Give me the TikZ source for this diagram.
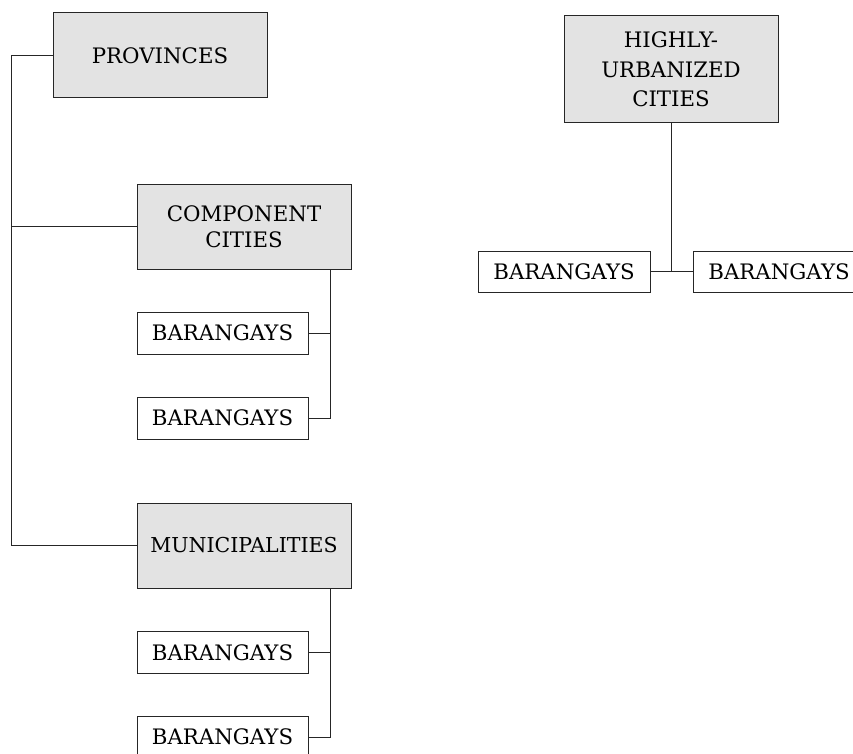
\documentclass[tikz,border=0pt]{standalone}
\usepackage{fontspec}
\setmainfont{DejaVu Serif}
\begin{document}
\begin{tikzpicture}[x=1pt,y=-1pt,
  lbl/.style={font=\fontsize{21.3}{26}\selectfont, align=center, inner sep=0pt},
  shaded/.style={lbl, draw=black!85, line width=1pt, fill=black!11},
  plain/.style={lbl, draw=black!85, line width=1pt, fill=white},
  conn/.style={draw=black!85, line width=0.9pt}]
\useasboundingbox (0,0) rectangle (853,754);
\clip (0,0) rectangle (853,754);
% left tree
\node[shaded, minimum width=214pt, minimum height=85pt] (prov) at (160,55.5) {PROVINCES};
\node[shaded, minimum width=214pt, minimum height=85pt] (comp) at (244,226.5) {COMPONENT\\CITIES};
\node[plain, minimum width=171pt, minimum height=42pt] (cb1) at (222.5,333) {BARANGAYS};
\node[plain, minimum width=171pt, minimum height=42pt] (cb2) at (222.5,418) {BARANGAYS};
\node[shaded, minimum width=214pt, minimum height=85pt, font=\fontsize{20.5}{26}\selectfont] (mun) at (244,545.5) {MUNICIPALITIES};
\node[plain, minimum width=171pt, minimum height=42pt] (mb1) at (222.5,652.5) {BARANGAYS};
\node[plain, minimum width=171pt, minimum height=42pt] (mb2) at (222.5,737) {BARANGAYS};
\coordinate (lx) at (11,0);
\draw[conn] (prov.west) -| (lx |- mun.west) -- (mun.west);
\draw[conn] (lx |- comp.west) -- (comp.west);
\coordinate (cx) at (330,0);
\draw[conn] (cx |- comp.south) -- (cx |- cb2.east) -- (cb2.east);
\draw[conn] (cb1.east) -- (cx |- cb1.east);
\draw[conn] (cx |- mun.south) -- (cx |- mb2.east) -- (mb2.east);
\draw[conn] (mb1.east) -- (cx |- mb1.east);
% right tree
\node[shaded, font=\fontsize{21.3}{29.5}\selectfont, minimum width=214pt, minimum height=107pt] (huc) at (671,69.5) {HIGHLY-\\URBANIZED\\CITIES};
\node[plain, minimum width=172pt, minimum height=41pt] (hb1) at (564,271.5) {BARANGAYS};
\node[plain, minimum width=172pt, minimum height=41pt] (hb2) at (779,271.5) {BARANGAYS};
\draw[conn] (huc.south) -- (huc.south |- hb1.east);
\draw[conn] (hb1.east) -- (hb2.west);
\end{tikzpicture}
\end{document}
